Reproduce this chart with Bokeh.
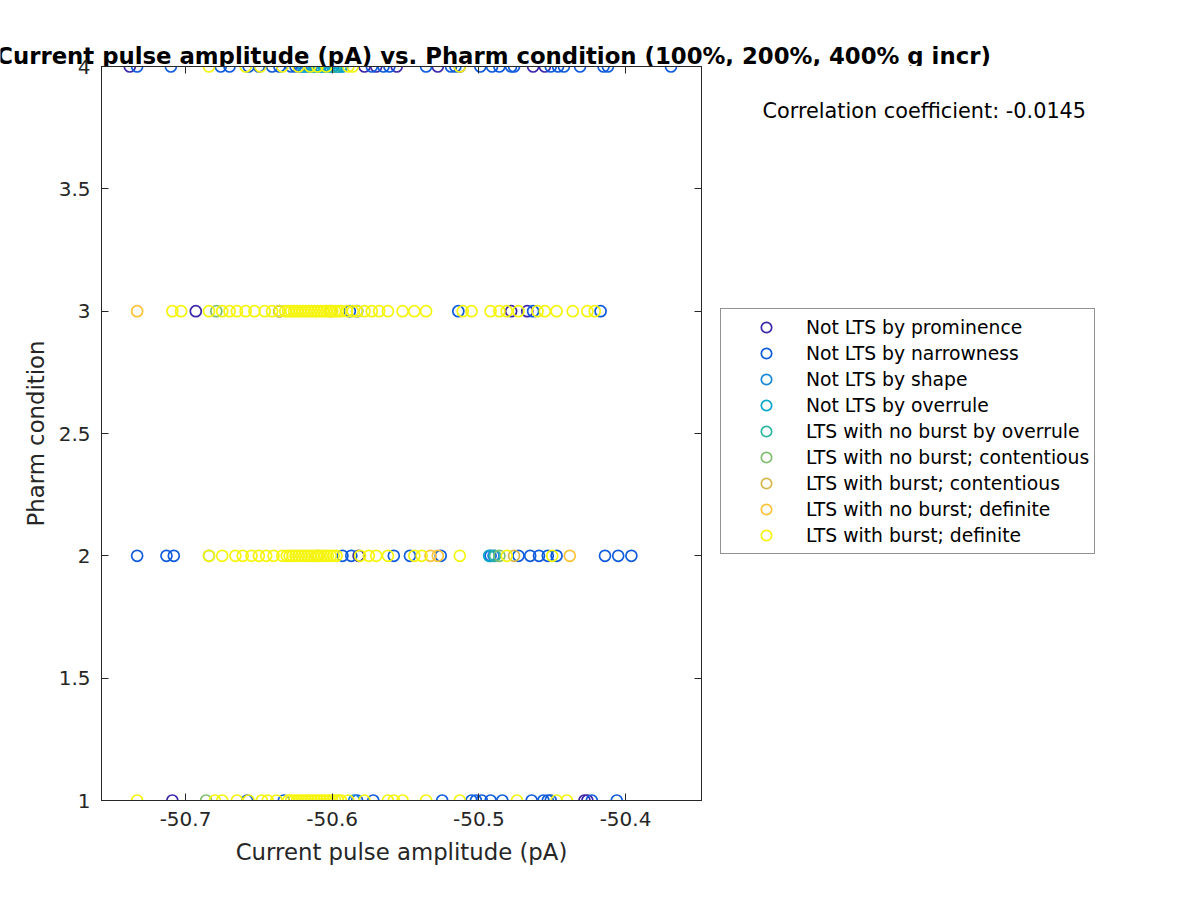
from bokeh.plotting import figure
from bokeh.layouts import column, row
from bokeh.models import (FixedTicker, LinearAxis, Legend, LegendItem, Label, Range1d)
from bokeh.embed import file_html
from bokeh.resources import INLINE

# ---------------- data ----------------
categories = [
    "Not LTS by prominence",
    "Not LTS by narrowness",
    "Not LTS by shape",
    "Not LTS by overrule",
    "LTS with no burst by overrule",
    "LTS with no burst; contentious",
    "LTS with burst; contentious",
    "LTS with no burst; definite",
    "LTS with burst; definite",
]
colors = ["#3e26a8", "#0f5bdc", "#1a88d8", "#08a8c8", "#2cb5a0",
          "#80bf70", "#d4b84c", "#fcc238", "#f5f510"]

x_ticks = [-50.7, -50.6, -50.5, -50.4]
x_tick_labels = ["-50.7", "-50.6", "-50.5", "-50.4"]
y_ticks = [1, 1.5, 2, 2.5, 3, 3.5, 4]
y_tick_labels = ["1", "1.5", "2", "2.5", "3", "3.5", "4"]
x_limits = (-50.7573, -50.3482)
y_limits = (1, 4)
correlation = -0.0145
title_text = "Current pulse amplitude (pA) vs. Pharm condition (100%, 200%, 400% g incr)"
x_label = "Current pulse amplitude (pA)"
y_label = "Pharm condition"

# current pulse amplitude values, keyed by pharm condition
prominence = {
    4: [-50.738, -50.578, -50.570, -50.556, -50.528, -50.513, -50.463, -50.455],
    3: [-50.693, -50.636, -50.478, -50.467],
    2: [-50.582],
    1: [-50.709, -50.428, -50.426],
}
narrowness = {
    4: [-50.733, -50.710, -50.676, -50.670, -50.657, -50.650, -50.641, -50.636, -50.628,
        -50.625, -50.622, -50.573, -50.565, -50.561, -50.536, -50.519, -50.516, -50.499,
        -50.491, -50.486, -50.478, -50.476, -50.451, -50.446, -50.442, -50.431, -50.415,
        -50.412, -50.369],
    3: [-50.588, -50.583, -50.514, -50.463, -50.417],
    2: [-50.733, -50.713, -50.708, -50.593, -50.587, -50.558, -50.547, -50.526, -50.492,
        -50.473, -50.465, -50.459, -50.453, -50.447, -50.414, -50.405, -50.396],
    1: [-50.658, -50.633, -50.583, -50.572, -50.525, -50.505, -50.502, -50.498, -50.492,
        -50.484, -50.464, -50.456, -50.453, -50.451, -50.423, -50.406],
}
shape = {
    4: [-50.620, -50.617, -50.614, -50.611, -50.608, -50.605, -50.602, -50.599, -50.596, -50.593],
    2: [-50.490],
    1: [-50.585],
}
overrule = {
    4: [-50.619, -50.615, -50.612, -50.609, -50.606, -50.603, -50.600, -50.597, -50.594],
    2: [-50.493],
}
noburst_overrule = {
    4: [-50.598],
    2: [-50.489],
}
noburst_contentious = {
    3: [-50.679],
    2: [-50.684, -50.486],
    1: [-50.686],
}
burst_contentious = {
    3: [-50.601],
    2: [-50.476],
}
noburst_definite = {
    3: [-50.733],
    2: [-50.610, -50.533, -50.528, -50.438],
}
burst_definite = {
    4: [-50.684, -50.659, -50.649, -50.634, -50.623, -50.615, -50.610, -50.604, -50.589,
        -50.586, -50.513],
    3: [-50.709, -50.703, -50.684, -50.675, -50.670, -50.665, -50.659, -50.653, -50.646,
        -50.641, -50.636, -50.632, -50.630, -50.628, -50.626, -50.624, -50.622, -50.620,
        -50.618, -50.616, -50.614, -50.612, -50.610, -50.608, -50.606, -50.604, -50.602,
        -50.600, -50.598, -50.596, -50.594, -50.590, -50.586, -50.583, -50.578, -50.573,
        -50.568, -50.562, -50.552, -50.544, -50.536, -50.511, -50.505, -50.492, -50.486,
        -50.481, -50.473, -50.460, -50.455, -50.447, -50.436, -50.426, -50.421],
    2: [-50.684, -50.675, -50.666, -50.661, -50.655, -50.650, -50.645, -50.640, -50.634,
        -50.631, -50.629, -50.627, -50.625, -50.623, -50.621, -50.619, -50.617, -50.615,
        -50.613, -50.611, -50.609, -50.607, -50.605, -50.603, -50.601, -50.599, -50.597,
        -50.581, -50.575, -50.570, -50.562, -50.544, -50.539, -50.513, -50.481, -50.450],
    1: [-50.733, -50.680, -50.675, -50.665, -50.657, -50.648, -50.644, -50.638, -50.630,
        -50.628, -50.626, -50.624, -50.622, -50.620, -50.618, -50.616, -50.614, -50.612,
        -50.610, -50.608, -50.606, -50.604, -50.602, -50.600, -50.598, -50.596, -50.594,
        -50.589, -50.578, -50.562, -50.558, -50.552, -50.536, -50.513, -50.474, -50.447,
        -50.440],
}
category_data = [prominence, narrowness, shape, overrule, noburst_overrule,
                 noburst_contentious, burst_contentious, noburst_definite, burst_definite]

# ---------------- style / geometry (page px) ----------------
FONT = "DejaVu Sans"
AX_COLOR = "#262626"
MARKER_SIZE = 11
MARKER_LW = 1.7

TITLE_H = 66                 # title strip: 0..66
OVERLAP = 12                 # lower row starts at 54 (overlaps title strip)
ROW_TOP = TITLE_H - OVERLAP
FRAME_L, FRAME_R, FRAME_T, FRAME_B = 101, 701, 66, 800
MAIN_W = 703
SIDE_W = 488
ROW_H = 892 - ROW_TOP

# ---- title strip ----
title_fig = figure(width=MAIN_W + SIDE_W, height=TITLE_H, output_backend="svg",
                   toolbar_location=None, x_range=Range1d(0, MAIN_W + SIDE_W),
                   y_range=Range1d(TITLE_H, 0), min_border=0, min_border_left=0,
                   min_border_right=0, min_border_top=0, min_border_bottom=0,
                   x_axis_location=None, y_axis_location=None)
title_fig.grid.visible = False
title_fig.outline_line_color = None
title_fig.background_fill_color = "white"
title_fig.border_fill_color = "white"
title_fig.add_layout(Label(x=493, y=55.5, text=title_text, text_font=FONT,
                           text_font_style="bold", text_font_size="22.8px",
                           text_color="black", text_align="center",
                           text_baseline="alphabetic"))

# ---- main axes ----
p = figure(width=MAIN_W, height=ROW_H, output_backend="svg", toolbar_location=None,
           x_range=Range1d(*x_limits), y_range=Range1d(*y_limits),
           min_border_left=FRAME_L, min_border_right=MAIN_W - FRAME_R,
           min_border_top=FRAME_T - ROW_TOP, min_border_bottom=ROW_TOP + ROW_H - FRAME_B)
p.grid.visible = False
p.outline_line_color = AX_COLOR
p.outline_line_width = 1
p.background_fill_color = "white"
p.border_fill_color = None

p.add_layout(LinearAxis(), "above")
p.add_layout(LinearAxis(), "right")


def style_axis(ax, ticks, labels, show_labels):
    ax.ticker = FixedTicker(ticks=ticks)
    ax.major_tick_in = 7
    ax.major_tick_out = 0
    ax.minor_tick_line_color = None
    ax.axis_line_color = AX_COLOR
    ax.major_tick_line_color = AX_COLOR
    if show_labels:
        ax.major_label_overrides = {t: l for t, l in zip(ticks, labels)}
        ax.major_label_text_font = FONT
        ax.major_label_text_font_size = "20px"
        ax.major_label_text_color = AX_COLOR
        ax.major_label_standoff = 11
        ax.axis_label_text_font = FONT
        ax.axis_label_text_font_size = "22.8px"
        ax.axis_label_text_font_style = "normal"
        ax.axis_label_text_color = AX_COLOR
    else:
        ax.major_label_overrides = {t: "" for t in ticks}
        ax.major_label_text_font_size = "0px"
        ax.major_label_standoff = 0


for ax in p.below:
    style_axis(ax, x_ticks, x_tick_labels, True)
    ax.axis_label = x_label
    ax.axis_label_standoff = 10
for ax in p.above:
    style_axis(ax, x_ticks, x_tick_labels, False)
for ax in p.left:
    style_axis(ax, y_ticks, y_tick_labels, True)
    ax.axis_label = y_label
    ax.axis_label_standoff = 7
for ax in p.right:
    style_axis(ax, y_ticks, y_tick_labels, False)

for name, color, data in zip(categories, colors, category_data):
    xs, ys = [], []
    for cond in (4, 3, 2, 1):
        vals = data.get(cond, [])
        xs += vals
        ys += [cond] * len(vals)
    p.scatter(xs, ys, marker="circle", size=MARKER_SIZE, fill_alpha=0,
              line_color=color, line_width=MARKER_LW)

# ---- side strip (its frame is aligned with the main frame: 66..800) ----
side = figure(width=SIDE_W, height=ROW_H, output_backend="svg", toolbar_location=None,
              x_range=Range1d(MAIN_W, MAIN_W + SIDE_W), y_range=Range1d(FRAME_B, FRAME_T),
              min_border_left=0, min_border_right=0,
              min_border_top=FRAME_T - ROW_TOP, min_border_bottom=ROW_TOP + ROW_H - FRAME_B,
              x_axis_location=None, y_axis_location=None)
side.grid.visible = False
side.outline_line_color = None
side.background_fill_color = None
side.border_fill_color = None
side.add_layout(Label(x=762, y=110.5, text=f"Correlation coefficient: {correlation}",
                      text_font=FONT, text_font_size="20.8px", text_color="black",
                      text_align="left", text_baseline="alphabetic"))
nan = float("nan")
items = []
for name, color in zip(categories, colors):
    r = side.scatter([nan], [nan], marker="circle", size=MARKER_SIZE, fill_alpha=0,
                     line_color=color, line_width=MARKER_LW)
    items.append(LegendItem(label=name, renderers=[r]))

legend = Legend(items=items, location=(720 - MAIN_W, FRAME_B - 554),
                label_text_font=FONT, label_text_font_size="18.75px",
                label_text_color="black", label_height=26, glyph_height=26,
                glyph_width=80, label_standoff=0, spacing=0, padding=5, margin=0,
                border_line_color=AX_COLOR, border_line_width=1,
                background_fill_color="white", background_fill_alpha=1)
side.add_layout(legend)

lower = row(p, side, margin=(-OVERLAP, 0, 0, 0))
layout = column(title_fig, lower)
open("out.html", "w").write(file_html(layout, INLINE))
